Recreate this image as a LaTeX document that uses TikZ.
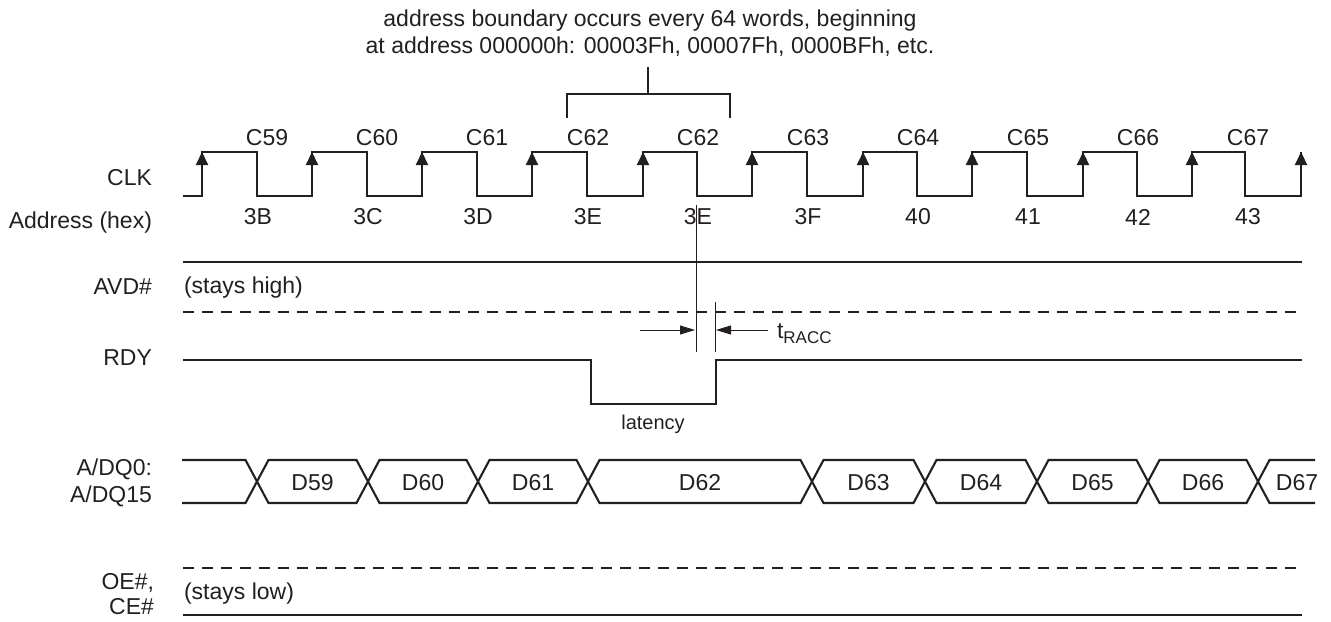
\documentclass[tikz,border=0pt]{standalone}
\usepackage{fontspec}
\setmainfont{Liberation Sans}
\usetikzlibrary{arrows.meta}
\definecolor{ink}{HTML}{231F20}

\begin{document}
\begin{tikzpicture}[x=0.5pt,y=-0.5pt,>={Triangle[length=6.5pt,width=6pt]},
                    node distance=55pt,line width=1.05pt,color=ink]

  \tikzstyle{every node}=[inner sep=0pt,font=\fontsize{11.5}{13.5}\selectfont]
  \tikzstyle{hold}=[dash pattern=on 5.5pt off 4pt]
  \tikzstyle{cursor}=[line width=0.5pt]
  \tikzstyle{gap}=[cursor,-{Triangle[length=7.5pt,width=4.5pt]}]

  \useasboundingbox (0,0) rectangle (1331,621);

  \node (NOTE) [align=center] at (650,33) {address boundary occurs every 64 words, beginning\\at address 000000h: 00003Fh, 00007Fh, 0000BFh, etc.};

  \node (CLK)  [anchor=east]             at (153,178) {CLK};
  \node (ADR)  [anchor=east]             at (153,223) {Address (hex)};
  \node (AVD)  [anchor=east]             at (153,287) {AVD\#};
  \node (RDY)  [anchor=east]             at (153,358) {RDY};
  \node (ADQ)  [anchor=east,align=right] at (153,483) {A/DQ0:\\A/DQ15};
  \node (OECE) [anchor=east,align=right] at (155,594) {OE\#,\\[-1pt]CE\#};

  \node (C59)                 at (267,138) {C59};
  \node (C60)  [right of=C59]              {C60};
  \node (C61)  [right of=C60]              {C61};
  \node (C62a)                at (588,138) {C62};
  \node (C62b) [right of=C62a]             {C62};
  \node (C63)  [right of=C62b]             {C63};
  \node (C64)  [right of=C63]              {C64};
  \node (C65)  [right of=C64]              {C65};
  \node (C66)  [right of=C65]              {C66};
  \node (C67)  [right of=C66]              {C67};

  \node (A3B)                 at (258,217) {3B};
  \node (A3C)  [right of=A3B]              {3C};
  \node (A3D)  [right of=A3C]              {3D};
  \node (A3Ea) [right of=A3D]              {3E};
  \node (A3Eb) [right of=A3Ea]             {3E};
  \node (A3F)  [right of=A3Eb]             {3F};
  \node (A40)  [right of=A3F]              {40};
  \node (A41)  [right of=A40]              {41};
  \node (A42)  [right of=A41]              {42};
  \node (A43)  [right of=A42]              {43};

  \draw (567,118) |- (730,94) -- (730,118);
  \draw (648,67) -- (648,94);

  \draw (183,196) -| (202,152) -| (257,196) -| (312,152) -| (367,196) -| (422,152) -| (477,196)
        -| (532,152) -| (587,196) -| (643,152) -| (697,196) -| (752,152) -| (807,196) -| (863,152)
        -| (917,196) -| (972,152) -| (1027,196) -| (1083,152) -| (1137,196) -| (1192,152)
        -| (1245,196) -| (1301,152);
  \path[->] (202,176) edge (202,152) (312,176) edge (312,152) (422,176) edge (422,152)
            (532,176) edge (532,152) (643,176) edge (643,152) (752,176) edge (752,152)
            (863,176) edge (863,152) (972,176) edge (972,152) (1083,176) edge (1083,152)
            (1192,176) edge (1192,152) (1301,176) edge (1301,152);

  \draw (183,262) -- (1302,262);

  \node (HIGH) [anchor=west] at (183,288) {(stays high)};
  \draw[hold] (183,312) -- (1302,312);

  \draw (183,360) -| (591,404) -| (716,360) -- (1302,360);
  \node (LAT) [font=\fontsize{10}{12}\selectfont] at (653,424) {latency};

  \draw[cursor] (696,205) -- (696,352);
  \draw[cursor] (715,302) -- (715,352);
  \path[gap] (640,330) edge (695,330) (768,330) edge (716,330);
  \node (TRACC) [anchor=base west] at (776,338) {t\raisebox{-2.5pt}{\fontsize{8.5}{10}\selectfont RACC}};

  \draw (182,460) -- (245.5,460) -- (268.5,503) -- (356.5,503) -- (379.5,460) -- (466.5,460)
        -- (489.5,503) -- (576.5,503) -- (599.5,460) -- (800.5,460) -- (823.5,503) -- (913.5,503)
        -- (936.5,460) -- (1025.5,460) -- (1048.5,503) -- (1136.5,503) -- (1159.5,460)
        -- (1246.5,460) -- (1269.5,503) -- (1315,503);
  \draw (182,503) -- (245.5,503) -- (268.5,460) -- (356.5,460) -- (379.5,503) -- (466.5,503)
        -- (489.5,460) -- (576.5,460) -- (599.5,503) -- (800.5,503) -- (823.5,460) -- (913.5,460)
        -- (936.5,503) -- (1025.5,503) -- (1048.5,460) -- (1136.5,460) -- (1159.5,503)
        -- (1246.5,503) -- (1269.5,460) -- (1315,460);
  \node (D59) at (312.5,483) {D59};
  \node (D60) at (423,483)   {D60};
  \node (D61) at (533,483)   {D61};
  \node (D62) at (700,483)   {D62};
  \node (D63) at (868.5,483) {D63};
  \node (D64) at (981,483)   {D64};
  \node (D65) at (1092.5,483) {D65};
  \node (D66) at (1203,483)  {D66};
  \node (D67) at (1297,483)  {D67};

  \draw[hold] (183,568) -- (1302,568);
  \node (LOW) [anchor=west] at (183,594) {(stays low)};
  \draw (183,615) -- (1302,615);
\end{tikzpicture}
\end{document}
